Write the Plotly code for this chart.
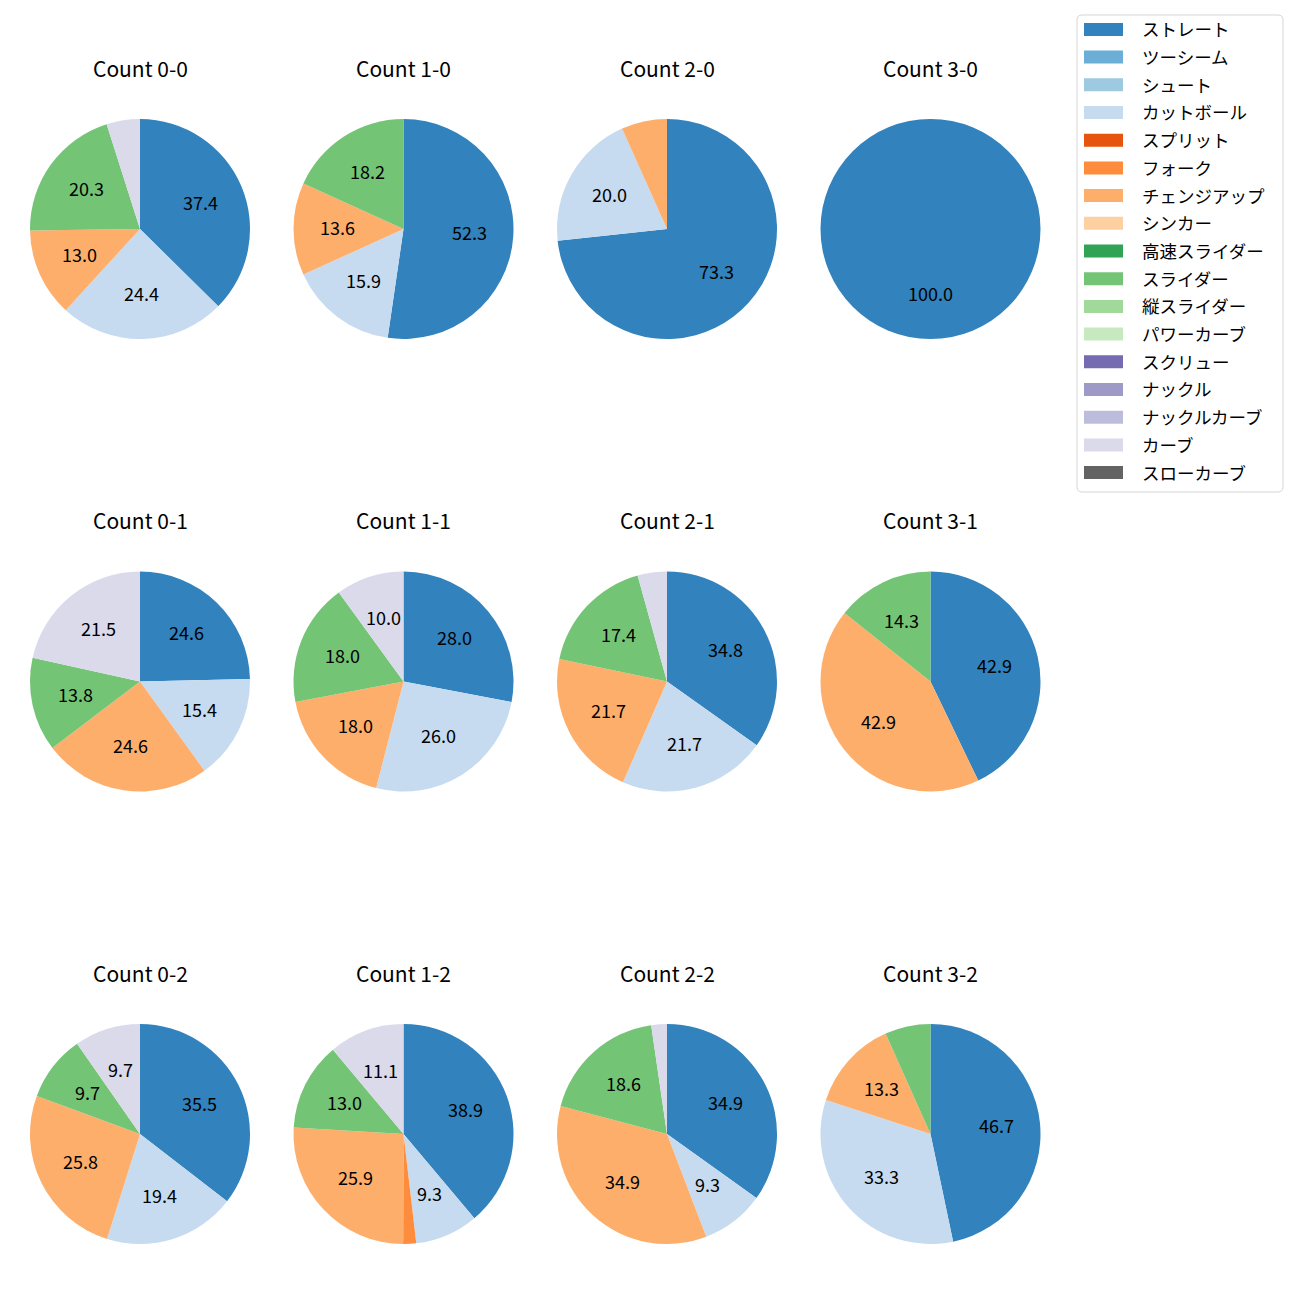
import math
import plotly.graph_objects as go

# ---------------- data ----------------
pitch_types = ["ストレート", "ツーシーム", "シュート", "カットボール", "スプリット", "フォーク",
               "チェンジアップ", "シンカー", "高速スライダー", "スライダー", "縦スライダー",
               "パワーカーブ", "スクリュー", "ナックル", "ナックルカーブ", "カーブ", "スローカーブ"]
colors = ["#3182bd", "#6baed6", "#9ecae1", "#c6dbef", "#e6550d", "#fd8d3c",
          "#fdae6b", "#fdd0a2", "#31a354", "#74c476", "#a1d99b", "#c7e9c0",
          "#756bb1", "#9e9ac8", "#bcbddc", "#dadaeb", "#636363"]

counts = ["0-0", "1-0", "2-0", "3-0",
          "0-1", "1-1", "2-1", "3-1",
          "0-2", "1-2", "2-2", "3-2"]

# percentage shares per count (pitch type -> %)
share_0_0 = {"ストレート": 37.4, "カットボール": 24.4, "チェンジアップ": 13.0, "スライダー": 20.3, "カーブ": 4.9}
share_1_0 = {"ストレート": 52.3, "カットボール": 15.9, "チェンジアップ": 13.6, "スライダー": 18.2}
share_2_0 = {"ストレート": 73.3, "カットボール": 20.0, "チェンジアップ": 6.7}
share_3_0 = {"ストレート": 100.0}
share_0_1 = {"ストレート": 24.6, "カットボール": 15.4, "チェンジアップ": 24.6, "スライダー": 13.8, "カーブ": 21.5}
share_1_1 = {"ストレート": 28.0, "カットボール": 26.0, "チェンジアップ": 18.0, "スライダー": 18.0, "カーブ": 10.0}
share_2_1 = {"ストレート": 34.8, "カットボール": 21.7, "チェンジアップ": 21.7, "スライダー": 17.4, "カーブ": 4.3}
share_3_1 = {"ストレート": 42.9, "チェンジアップ": 42.9, "スライダー": 14.3}
share_0_2 = {"ストレート": 35.5, "カットボール": 19.4, "チェンジアップ": 25.8, "スライダー": 9.7, "カーブ": 9.7}
share_1_2 = {"ストレート": 38.9, "カットボール": 9.3, "フォーク": 1.9, "チェンジアップ": 25.9, "スライダー": 13.0, "カーブ": 11.1}
share_2_2 = {"ストレート": 34.9, "カットボール": 9.3, "チェンジアップ": 34.9, "スライダー": 18.6, "カーブ": 2.3}
share_3_2 = {"ストレート": 46.7, "カットボール": 33.3, "チェンジアップ": 13.3, "スライダー": 6.7}

shares = [share_0_0, share_1_0, share_2_0, share_3_0,
          share_0_1, share_1_1, share_2_1, share_3_1,
          share_0_2, share_1_2, share_2_2, share_3_2]

LABEL_MIN = 8.0  # smaller slices carry no label

# ---------------- layout constants ----------------
W = H = 1300
FONT = "Noto Sans CJK JP"
col_cx = [140, 403.5, 667, 930.5]
row_cy = [229, 681.5, 1134]
R = 110
TEXT_DY = -2.0   # vertical nudge of the percentage labels
TITLE_DY = -161.5
color_of = dict(zip(pitch_types, colors))

fig = go.Figure()
annotations = []
shapes = []

for k, (cnt, sh) in enumerate(zip(counts, shares)):
    cx = col_cx[k % 4]
    cy = row_cy[k // 4]
    labels = [p for p in pitch_types if p in sh]
    vals = [sh[p] for p in labels]
    fig.add_trace(go.Pie(
        labels=labels, values=vals, sort=False, direction="clockwise", rotation=0,
        marker=dict(colors=[color_of[p] for p in labels], line=dict(width=0)),
        textinfo="none", hoverinfo="label+value", showlegend=False,
        domain=dict(x=[(cx - R) / W, (cx + R) / W], y=[1 - (cy + R) / H, 1 - (cy - R) / H]),
    ))
    # title
    annotations.append(dict(x=cx / W, y=1 - (cy + TITLE_DY) / H, xref="paper", yref="paper",
                            text=f"Count {cnt}", showarrow=False, xanchor="center", yanchor="middle",
                            font=dict(family=FONT, size=21, color="#000000")))
    # percentage labels at 0.6 r
    total = sum(vals)
    cum = 0.0
    for v in vals:
        mid = (cum + v / 2) / total
        cum += v
        if v < LABEL_MIN:
            continue
        th = 2 * math.pi * mid
        lx = cx + 0.6 * R * math.sin(th)
        ly = cy - 0.6 * R * math.cos(th) + TEXT_DY
        annotations.append(dict(x=lx / W, y=1 - ly / H, xref="paper", yref="paper",
                                text=f"{v:.1f}", showarrow=False, xanchor="center", yanchor="middle",
                                font=dict(family=FONT, size=18, color="#000000")))

# ---------------- manual legend ----------------
lx0, lx1, ly0, ly1, rr = 1077, 1283, 15, 492, 5
def P(x, y):
    return f"{x / W:.6f},{1 - y / H:.6f}"
path = (f"M{P(lx0 + rr, ly0)} L{P(lx1 - rr, ly0)} Q{P(lx1, ly0)} {P(lx1, ly0 + rr)} "
        f"L{P(lx1, ly1 - rr)} Q{P(lx1, ly1)} {P(lx1 - rr, ly1)} "
        f"L{P(lx0 + rr, ly1)} Q{P(lx0, ly1)} {P(lx0, ly1 - rr)} "
        f"L{P(lx0, ly0 + rr)} Q{P(lx0, ly0)} {P(lx0 + rr, ly0)} Z")
shapes.append(dict(type="path", xref="paper", yref="paper", path=path,
                   line=dict(color="#d5d5d5", width=1), fillcolor="rgba(255,255,255,0.8)"))
y_first, dy = 29.4, 27.7
for i, (p, c) in enumerate(zip(pitch_types, colors)):
    yc = y_first + i * dy
    shapes.append(dict(type="rect", xref="paper", yref="paper",
                       x0=1084 / W, x1=1123 / W, y0=1 - (yc + 6.5) / H, y1=1 - (yc - 6.5) / H,
                       line=dict(width=0), fillcolor=c))
    annotations.append(dict(x=1140 / W, y=1 - (yc - 0.5) / H, xref="paper", yref="paper", text=p,
                            showarrow=False, xanchor="left", yanchor="middle",
                            font=dict(family=FONT, size=17.5, color="#000000")))

fig.update_layout(width=W, height=H, autosize=False, margin=dict(l=0, r=0, t=0, b=0),
                  paper_bgcolor="white", plot_bgcolor="white",
                  annotations=annotations, shapes=shapes, showlegend=False)

fig.write_html("out.html")
